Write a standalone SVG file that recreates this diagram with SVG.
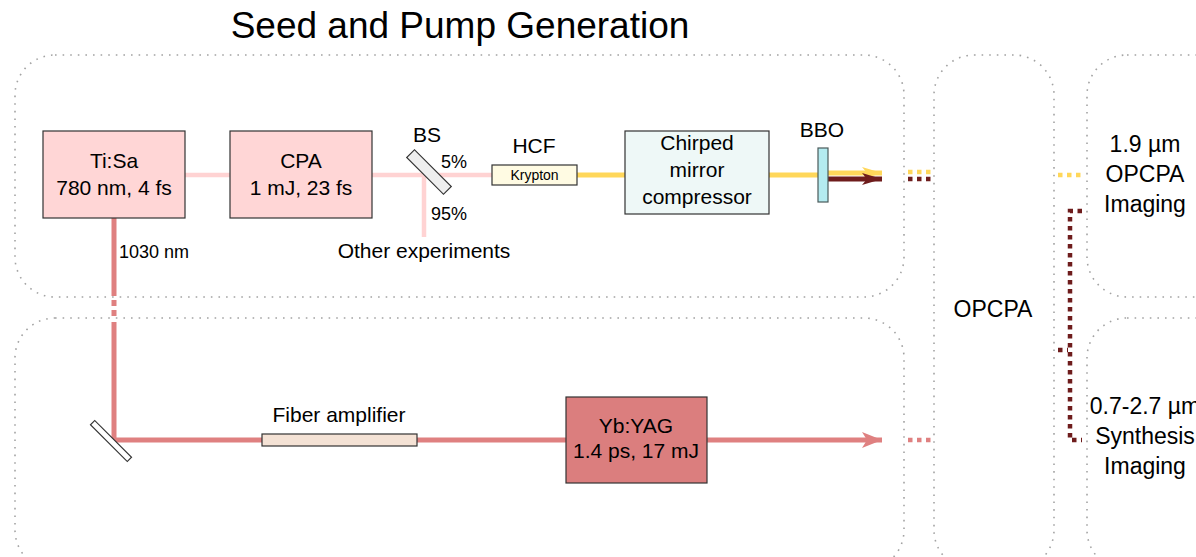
<svg xmlns="http://www.w3.org/2000/svg" width="1196" height="557" viewBox="0 0 1196 557">
<style>
text{font-family:"Liberation Sans",Arial,Helvetica,sans-serif;fill:#000}
.c{text-anchor:middle}
.f21{font-size:21px}
.f23{font-size:23px}
.f18{font-size:18px}
.cont{fill:none;stroke:#a3a3a3;stroke-width:1.6;stroke-dasharray:1.6 6}
.box{stroke:#333;stroke-width:1.2}
.pink{fill:none;stroke:#ffd3d3;stroke-width:4.5}
.yel{fill:none;stroke:#ffd75a;stroke-width:5}
.dred{fill:none;stroke:#6e1c1c;stroke-width:5}
.sal{fill:none;stroke:#df8080;stroke-width:5}
.dot{stroke-dasharray:4.5 4.5}
</style>
<defs>
<marker id="aY" viewBox="0 0 20 12" refX="20" refY="6" markerWidth="20" markerHeight="12" markerUnits="userSpaceOnUse" orient="auto"><path d="M0,0 L20,6 L0,12 L5,6 Z" fill="#ffd75a"/></marker>
<marker id="aR" viewBox="0 0 20 12" refX="20" refY="6" markerWidth="20" markerHeight="12" markerUnits="userSpaceOnUse" orient="auto"><path d="M0,0 L20,6 L0,12 L5,6 Z" fill="#6e1c1c"/></marker>
<marker id="aS" viewBox="0 0 20 16" refX="20" refY="8" markerWidth="20" markerHeight="16" markerUnits="userSpaceOnUse" orient="auto"><path d="M0,0 L20,8 L0,16 L5,8 Z" fill="#df8080"/></marker>
</defs>
<rect width="1196" height="557" fill="#fff"/>
<g id="containers">
<rect id="seed-container" class="cont" x="15" y="55" width="889" height="242" rx="40"/>
<rect id="pump-container" class="cont" x="15" y="318" width="889" height="252" rx="40"/>
<rect id="opcpa" class="cont" x="934" y="55" width="120" height="515" rx="40"/>
<rect id="imaging1" class="cont" x="1087" y="55" width="160" height="242" rx="40"/>
<rect id="imaging2" class="cont" x="1087" y="318" width="160" height="252" rx="40"/>
</g>
<text class="c" x="460" y="38" style="font-size:37px">Seed and Pump Generation</text>
<g id="connectors">
<path class="pink" d="M185,175 H230 M372,175 H492 M424,175 V237"/>
<path class="yel" d="M577,175 H625 M769,175 H818"/>
<path class="yel" d="M828,173 H882" marker-end="url(#aY)"/>
<path class="dred" d="M828,179 H882" marker-end="url(#aR)"/>
<path class="sal" d="M114,218 V296 M114,300 V306 M114,310 V316 M114,322 V440 H262 M417,440 H566"/>
<path class="sal" d="M707,440 H882" marker-end="url(#aS)"/>
<path class="yel dot" d="M908,172 H931" style="stroke-width:4.5"/>
<path class="dred dot" d="M908,179 H931" style="stroke-width:4.5"/>
<path class="sal dot" d="M908,440 H931" style="stroke-width:4.5"/>
<path class="yel dot" d="M1058,175 H1082" style="stroke-width:4.5"/>
<path class="dred dot" d="M1082,211 H1070 V440 H1082 M1058,350 H1068" style="stroke-width:4.5"/>
</g>
<g id="tisa">
<rect class="box" x="43" y="131" width="142" height="87" fill="#ffd6d6"/>
<text class="c f21" x="114" y="168">Ti:Sa</text>
<text class="c f21" x="114" y="195">780 nm, 4 fs</text>
</g>
<g id="cpa">
<rect class="box" x="230" y="131" width="142" height="87" fill="#ffd6d6"/>
<text class="c f21" x="301" y="168">CPA</text>
<text class="c f21" x="301" y="195">1 mJ, 23 fs</text>
</g>
<g id="bs">
<rect class="box" x="403" y="166.5" width="52" height="11" fill="#eeeeee" transform="rotate(45 429 172)"/>
<text class="c f21" x="427" y="142">BS</text>
<text class="f18" x="441" y="168">5%</text>
<text class="f18" x="431" y="220">95%</text>
</g>
<text id="other" class="c f21" x="424" y="258">Other experiments</text>
<g id="hcf">
<rect class="box" x="492" y="165" width="85" height="20" fill="#fffbe3"/>
<text class="c" x="534.5" y="180" style="font-size:14px">Krypton</text>
<text class="c f21" x="534" y="153">HCF</text>
</g>
<g id="compressor">
<rect class="box" x="625" y="131" width="144" height="83" fill="#eef8f7"/>
<text class="c f21" x="697" y="150">Chirped</text>
<text class="c f21" x="697" y="177">mirror</text>
<text class="c f21" x="697" y="204">compressor</text>
</g>
<g id="bbo">
<rect x="818" y="148" width="10" height="54" fill="#b4ebf0" stroke="#4a5a5a" stroke-width="1.2"/>
<text class="c f21" x="822" y="137">BBO</text>
</g>
<text id="l1030" class="f18" x="119" y="258">1030 nm</text>
<g id="mirror">
<rect x="85" y="438" width="52" height="6" fill="#fff" stroke="#333" stroke-width="1.2" transform="rotate(45 111 441)"/>
</g>
<g id="fiber">
<rect class="box" x="262" y="434" width="155" height="12" fill="#f4e2d5"/>
<text class="c f21" x="339" y="422">Fiber amplifier</text>
</g>
<g id="ybyag">
<rect class="box" x="566" y="397" width="141" height="86" fill="#db7e7e"/>
<text class="c f21" x="636" y="433">Yb:YAG</text>
<text class="c f21" x="636" y="458">1.4 ps, 17 mJ</text>
</g>
<text class="c f23" x="993" y="317">OPCPA</text>
<g id="img1-text">
<text class="c f23" x="1145" y="152">1.9 µm</text>
<text class="c f23" x="1145" y="182">OPCPA</text>
<text class="c f23" x="1145" y="212">Imaging</text>
</g>
<g id="img2-text">
<text class="c f23" x="1145" y="414">0.7-2.7 µm</text>
<text class="c f23" x="1145" y="444">Synthesis</text>
<text class="c f23" x="1145" y="474">Imaging</text>
</g>
</svg>
